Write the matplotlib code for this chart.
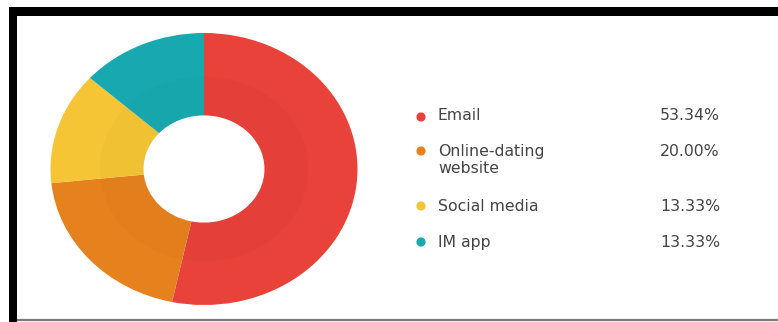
import matplotlib.pyplot as plt
from matplotlib.patches import Rectangle, Wedge

# channel shares (percent)
channels = ["Email", "Online-dating\nwebsite", "Social media", "IM app"]
shares = [53.34, 20.00, 13.33, 13.33]
colors = ["#E8423A", "#E6821D", "#F5C535", "#17A9AF"]

W, H = 778, 322
fig = plt.figure(figsize=(W / 100, H / 100), dpi=100, facecolor="white")

# --- background layer in pixel coordinates: frame + legend ---
bg = fig.add_axes([0, 0, 1, 1])
bg.set_xlim(0, W)
bg.set_ylim(H, 0)
bg.axis("off")

bg.add_patch(Rectangle((9, 7), W - 9, 9, facecolor="black", edgecolor="none"))
bg.add_patch(Rectangle((9, 7), 8, H - 7, facecolor="black", edgecolor="none"))
bg.plot([17, W], [320, 320], color="#7a7a7a", lw=1.6, solid_capstyle="butt")

row_y = [115, 151, 206, 242]
text_kw = dict(fontsize=11.3, color="#444444", family="DejaVu Sans", va="center")
for name, value, c, y in zip(channels, shares, colors, row_y):
    dot_y = y + (2 if name == "Email" else 0)
    bg.scatter([421], [dot_y], s=44, color=c, edgecolors="none")
    for i, line in enumerate(name.split("\n")):
        bg.text(438, y + i * 17, line, ha="left", **text_kw)
    bg.text(720, y, f"{value:.2f}%", ha="right", **text_kw)

# --- donut ---
ax = fig.add_axes([50.5 / W, (H - 305) / H, 307 / W, 272 / H])
hole = 0.394
ax.pie(shares, colors=colors, startangle=90, counterclock=False, radius=1,
       wedgeprops=dict(width=1 - hole, edgecolor="none"))
# faint inner shading band
ax.add_patch(Wedge((0, 0), 0.68, 0, 360, width=0.68 - hole,
                   facecolor="black", edgecolor="none", alpha=0.015))
ax.set_aspect("auto")
ax.set_xlim(-1, 1)
ax.set_ylim(-1, 1)
ax.axis("off")

fig.savefig("out.png", dpi=100, facecolor="white")
